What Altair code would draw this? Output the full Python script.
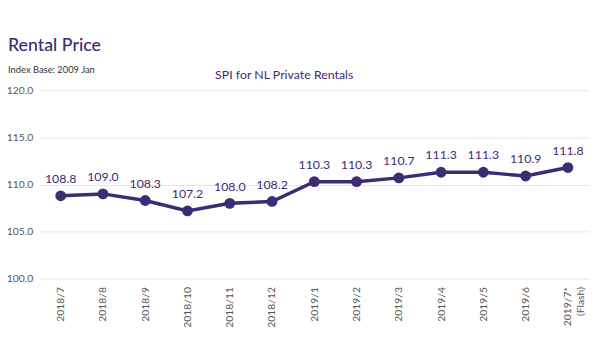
import altair as alt
import pandas as pd

months = ["2018/7", "2018/8", "2018/9", "2018/10", "2018/11", "2018/12",
          "2019/1", "2019/2", "2019/3", "2019/4", "2019/5", "2019/6", "2019/7*"]
values = [108.8, 109.0, 108.3, 107.2, 108.0, 108.2,
          110.3, 110.3, 110.7, 111.3, 111.3, 110.9, 111.8]
y_ticks = [100, 105, 110, 115, 120]

df = pd.DataFrame({"month": months, "value": values})

FONT = "Lato"
PURPLE = "#3d2b73"
W, H = 557, 191

x = alt.X("month:N", sort=months, scale=alt.Scale(paddingOuter=0.5, paddingInner=1),
          axis=alt.Axis(title=None, labelAngle=270, labelFontSize=10.5, labelColor="#555555",
                        labelFont=FONT, ticks=False, domain=False, labelPadding=8,
                        grid=False, labelAlign="right", labelBaseline="middle",
                        labelExpr="datum.value == '2019/7*' ? ['2019/7*', '(Flash)'] : datum.value"))
y = alt.Y("value:Q", scale=alt.Scale(domain=[100, 120], nice=False, zero=False),
          axis=alt.Axis(title=None, values=y_ticks, format=".1f", labelFontSize=10.5,
                        labelColor="#555555", labelFont=FONT, ticks=False, domain=False,
                        labelPadding=7, gridColor="#e6e6e6", gridWidth=1))

base = alt.Chart(df).encode(x=x, y=y)
line = base.mark_line(color=PURPLE, strokeWidth=3.5)
pts = base.mark_circle(color=PURPLE, size=120, opacity=1)
labels = base.mark_text(dy=-17, fontSize=12.5, color=PURPLE, font=FONT).encode(
    text=alt.Text("value:Q", format=".1f"))

tdf = pd.DataFrame({"t": ["Rental Price"]})
title = alt.Chart(tdf).mark_text(align="left", baseline="middle", fontSize=18,
                                 fontWeight=500, color=PURPLE, font=FONT).encode(
    x=alt.value(-32), y=alt.value(-45), text="t:N")
sdf = pd.DataFrame({"t": ["Index Base: 2009 Jan"]})
sub = alt.Chart(sdf).mark_text(align="left", baseline="middle", fontSize=9.5,
                               color="#333333", font=FONT).encode(
    x=alt.value(-32), y=alt.value(-21), text="t:N")
cdf = pd.DataFrame({"t": ["SPI for NL Private Rentals"]})
ctitle = alt.Chart(cdf).mark_text(align="center", baseline="middle", fontSize=12.5,
                                  color=PURPLE, font=FONT).encode(
    x=alt.value(248), y=alt.value(-15), text="t:N")

chart = alt.layer(line, pts, labels, title, sub, ctitle).properties(
    width=W, height=H,
    autosize=alt.AutoSizeParams(type="none"),
    padding={"left": 32, "top": 81, "right": 3, "bottom": 80},
).configure_view(stroke=None)

chart.save("out.html", embed_options={"renderer": "svg", "actions": False})
